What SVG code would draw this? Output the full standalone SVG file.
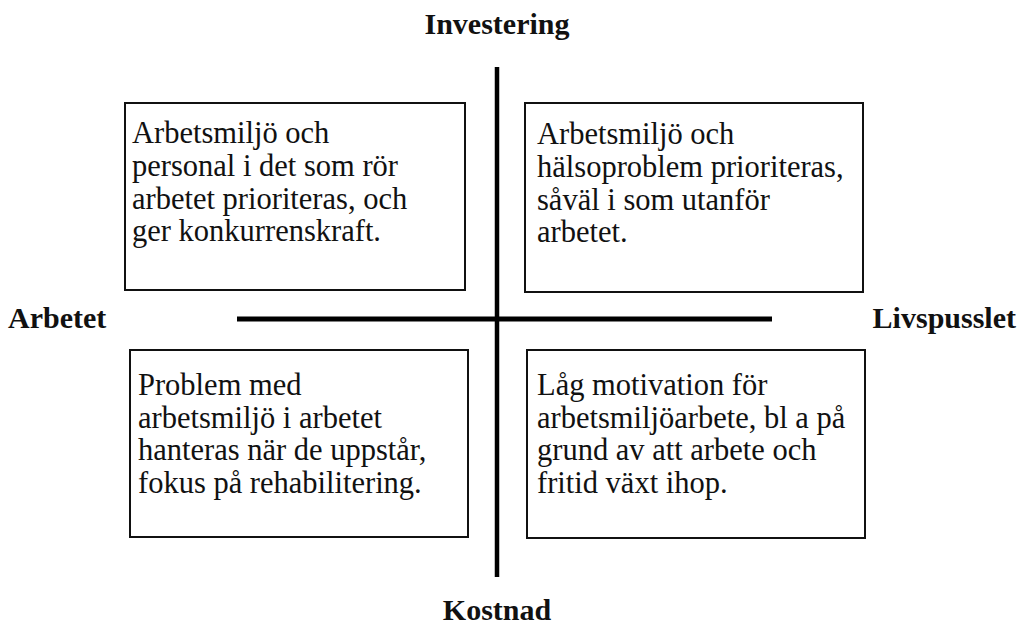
<svg xmlns="http://www.w3.org/2000/svg" width="1022" height="628" viewBox="0 0 1022 628">
<style>
.box{fill:#fff;stroke:#111;stroke-width:2}
.t{font-family:"Liberation Serif","Times New Roman",serif;font-size:30.5px;fill:#111}
.lbl{font-family:"Liberation Serif","Times New Roman",serif;font-size:30px;font-weight:bold;fill:#111}
.ax{stroke:#000;fill:none}
</style>
<rect width="1022" height="628" fill="#fff"/>
<g id="connectors">
<line class="ax" x1="497" y1="67" x2="497" y2="577" stroke-width="4.5"/>
<line class="ax" x1="237" y1="319" x2="772" y2="319" stroke-width="5"/>
</g>
<g id="label-investering"><text class="lbl" x="497" y="34" text-anchor="middle">Investering</text></g>
<g id="label-kostnad"><text class="lbl" x="497" y="620" text-anchor="middle">Kostnad</text></g>
<g id="label-arbetet"><text class="lbl" x="8" y="328">Arbetet</text></g>
<g id="label-livspusslet"><text class="lbl" x="1016" y="328" text-anchor="end">Livspusslet</text></g>
<g id="box-tl">
<rect class="box" x="125" y="103" width="340" height="187"/>
<text class="t" x="132" y="143">Arbetsmiljö och</text>
<text class="t" x="132" y="176">personal i det som rör</text>
<text class="t" x="132" y="209">arbetet prioriteras, och</text>
<text class="t" x="132" y="241">ger konkurrenskraft.</text>
</g>
<g id="box-tr">
<rect class="box" x="525" y="103" width="338" height="189"/>
<text class="t" x="537" y="144">Arbetsmiljö och</text>
<text class="t" x="537" y="177">hälsoproblem prioriteras,</text>
<text class="t" x="537" y="210">såväl i som utanför</text>
<text class="t" x="537" y="242">arbetet.</text>
</g>
<g id="box-bl">
<rect class="box" x="130" y="350" width="338" height="187"/>
<text class="t" x="138" y="395">Problem med</text>
<text class="t" x="138" y="428">arbetsmiljö i arbetet</text>
<text class="t" x="138" y="460">hanteras när de uppstår,</text>
<text class="t" x="138" y="493">fokus på rehabilitering.</text>
</g>
<g id="box-br">
<rect class="box" x="527" y="350" width="338" height="188"/>
<text class="t" x="537" y="395">Låg motivation för</text>
<text class="t" x="537" y="428">arbetsmiljöarbete, bl a på</text>
<text class="t" x="537" y="460">grund av att arbete och</text>
<text class="t" x="537" y="493">fritid växt ihop.</text>
</g>
</svg>
